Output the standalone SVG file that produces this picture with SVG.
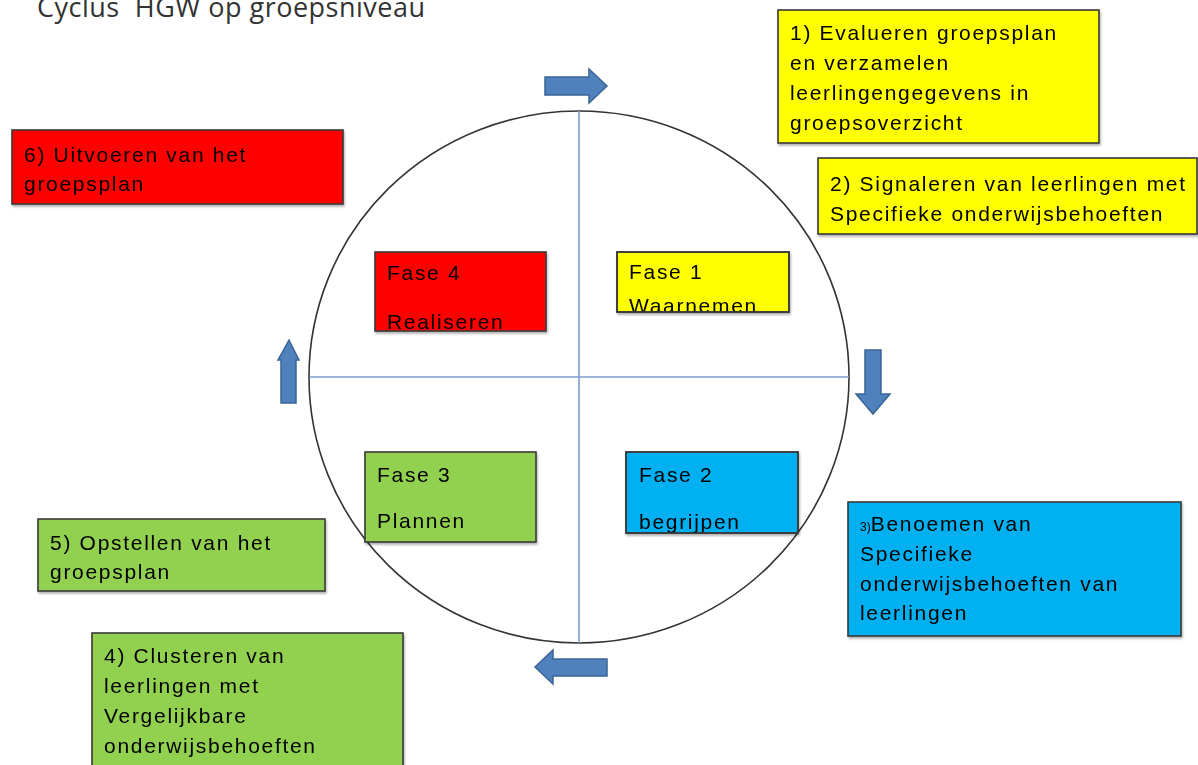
<svg xmlns="http://www.w3.org/2000/svg" width="1198" height="765" viewBox="0 0 1198 765">
<style>
.box{stroke:#3a3a3a;stroke-width:1.6}
.y{fill:#FFFF00}.r{fill:#FF0000}.g{fill:#92D050}.b{fill:#00B0F0}
.t{font-family:"Liberation Sans",Arial,sans-serif;font-size:21px;letter-spacing:1.7px;fill:#000}
.arr{fill:#4F81BD;stroke:#3B6497;stroke-width:1.5;stroke-linejoin:miter}
.axis{stroke:#7AA0CF;stroke-width:1.6}
</style>
<defs>
<filter id="sh" x="-5%" y="-5%" width="110%" height="115%">
<feDropShadow dx="1" dy="2" stdDeviation="1.2" flood-color="#000" flood-opacity="0.3"/>
</filter>
<clipPath id="c1"><rect x="617" y="252" width="172" height="60"/></clipPath>
<clipPath id="c2"><rect x="626" y="452" width="172" height="81"/></clipPath>
</defs>
<rect width="1198" height="765" fill="#fff"/>
<text x="37" y="17" style="font-family:'Open Sans','Noto Sans',sans-serif;font-size:27px;letter-spacing:0.5px;fill:#333">Cyclus&#160; HGW op groepsniveau</text>

<g id="connectors">
<ellipse cx="579" cy="377" rx="270" ry="266" fill="none" stroke="#333" stroke-width="1.6"/>
<line class="axis" x1="579" y1="111" x2="579" y2="643"/>
<line class="axis" x1="310" y1="377" x2="849" y2="377"/>
<polygon class="arr" points="545,77 589,77 589,69 607,86 589,103 589,95 545,95"/>
<polygon class="arr" points="865,350 881,350 881,394 890,394 873,414 856,394 865,394"/>
<polygon class="arr" points="607,659 553,659 553,650 535,667 553,684 553,676 607,676"/>
<polygon class="arr" points="281,403 296,403 296,360 299,360 289,340 278,360 281,360"/>
</g>

<g id="n1" filter="url(#sh)">
<rect class="box y" x="778" y="10" width="321" height="133"/>
<text class="t" x="790" y="40">1) Evalueren groepsplan</text>
<text class="t" x="790" y="70">en verzamelen</text>
<text class="t" x="790" y="100">leerlingengegevens in</text>
<text class="t" x="790" y="130">groepsoverzicht</text>
</g>
<g id="n2" filter="url(#sh)">
<rect class="box y" x="818" y="158" width="379" height="76"/>
<text class="t" x="830" y="191">2) Signaleren van leerlingen met</text>
<text class="t" x="830" y="221">Specifieke onderwijsbehoeften</text>
</g>
<g id="n6" filter="url(#sh)">
<rect class="box r" x="12" y="130" width="331" height="74"/>
<text class="t" x="24" y="162">6) Uitvoeren van het</text>
<text class="t" x="24" y="191">groepsplan</text>
</g>
<g id="fase4" filter="url(#sh)">
<rect class="box r" x="375" y="252" width="171" height="79"/>
<text class="t" x="387" y="280">Fase 4</text>
<text class="t" x="387" y="329">Realiseren</text>
</g>
<g id="fase1" filter="url(#sh)">
<rect class="box y" x="617" y="252" width="172" height="60"/>
<g clip-path="url(#c1)">
<text class="t" x="629" y="279">Fase 1</text>
<text class="t" x="629" y="313">Waarnemen</text>
</g>
<rect x="617" y="252" width="172" height="60" fill="none" stroke="#3a3a3a" stroke-width="1.6"/>
</g>
<g id="fase3" filter="url(#sh)">
<rect class="box g" x="365" y="452" width="171" height="90"/>
<text class="t" x="377" y="482">Fase 3</text>
<text class="t" x="377" y="528">Plannen</text>
</g>
<g id="fase2" filter="url(#sh)">
<rect class="box b" x="626" y="452" width="172" height="81"/>
<g clip-path="url(#c2)">
<text class="t" x="639" y="482">Fase 2</text>
<text class="t" x="639" y="529">begrijpen</text>
</g>
<rect x="626" y="452" width="172" height="81" fill="none" stroke="#3a3a3a" stroke-width="1.6"/>
</g>
<g id="n3" filter="url(#sh)">
<rect class="box b" x="848" y="502" width="333" height="134"/>
<text class="t" x="860" y="531"><tspan style="font-size:12px;letter-spacing:0">3)</tspan>Benoemen van</text>
<text class="t" x="860" y="561">Specifieke</text>
<text class="t" x="860" y="591">onderwijsbehoeften van</text>
<text class="t" x="860" y="620">leerlingen</text>
</g>
<g id="n5" filter="url(#sh)">
<rect class="box g" x="38" y="519" width="287" height="72"/>
<text class="t" x="50" y="550">5) Opstellen van het</text>
<text class="t" x="50" y="579">groepsplan</text>
</g>
<g id="n4" filter="url(#sh)">
<rect class="box g" x="92" y="633" width="311" height="140"/>
<text class="t" x="104" y="663">4) Clusteren van</text>
<text class="t" x="104" y="693">leerlingen met</text>
<text class="t" x="104" y="723">Vergelijkbare</text>
<text class="t" x="104" y="753">onderwijsbehoeften</text>
</g>
</svg>
